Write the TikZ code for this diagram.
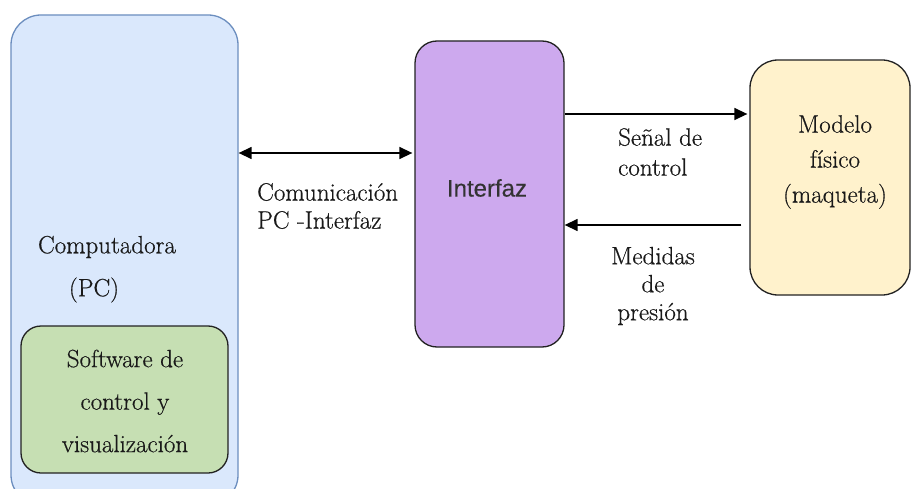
\documentclass[tikz,border=0pt]{standalone}
\usepackage{fontspec}
\newfontfamily\serfont{Latin Modern Roman}[FakeBold=0.5]
\newfontfamily\arialfont{Liberation Sans}[FakeBold=0.3]
\usetikzlibrary{arrows.meta}
\definecolor{pcfill}{HTML}{DAE8FC}
\definecolor{pcdraw}{HTML}{6C8EBF}
\definecolor{swfill}{HTML}{C6DFB3}
\definecolor{intfill}{HTML}{CDA9EE}
\definecolor{modfill}{HTML}{FFF2CC}
\definecolor{edge}{HTML}{222222}
\begin{document}
\begin{tikzpicture}[x=1pt,y=-1pt,
  box/.style={draw=edge, line width=1.3pt, inner sep=0pt},
  lbl/.style={font=\serfont\fontsize{25}{28}\selectfont, inner sep=0pt, text=black!90},
  conn/.style={line width=1.4pt, -{Triangle[length=13pt,width=12pt]}},
  conn2/.style={line width=1.4pt, {Triangle[length=13pt,width=12pt]}-{Triangle[length=13pt,width=12pt]}}]
\clip (0,0) rectangle (912,489);
\fill[white] (0,0) rectangle (912,489);
\node[box, draw=pcdraw, fill=pcfill, rounded corners=30pt, minimum width=227pt, minimum height=490pt] (pc) at (124.5,260) {};
\node[box, fill=swfill, rounded corners=20pt, minimum width=207pt, minimum height=147pt] (sw) at (124.5,399.5) {};
\node[box, fill=intfill, rounded corners=22pt, minimum width=149pt, minimum height=306pt] (int) at (489.5,194) {};
\node[box, fill=modfill, rounded corners=28pt, minimum width=160pt, minimum height=235pt] (mod) at (830,177.5) {};

\node[lbl] (pct1) at (107,247) {Computadora};
\node[lbl] (pct2) at (94,290) {(PC)};
\node[lbl, align=center, font=\serfont\fontsize{25}{42.5}\selectfont] (swt) at (125,401) {Software de\\control y\\visualización};
\node[lbl, font=\arialfont\fontsize{24}{28}\selectfont, text=black!80] (intt) at (487,188) {Interfaz};
\node[lbl, align=center, font=\serfont\fontsize{25}{35}\selectfont] (modt) at (835,162) {Modelo\\físico\\(maqueta)};

\coordinate (ya) at (0,153);
\coordinate (yb) at (0,114);
\coordinate (yc) at (0,225);
\draw[conn2] (pc.east |- ya) -- ([xshift=-2pt]int.west |- ya);
\draw[conn] (int.east |- yb) -- ([xshift=-2pt]mod.west |- yb);
\draw[conn] ([xshift=-8pt]mod.west |- yc) -- (int.east |- yc);

\node[lbl, align=left, anchor=west] (lc) at (257,206) {Comunicación\\PC -Interfaz};
\node[lbl, align=left, anchor=west, font=\serfont\fontsize{25}{30}\selectfont] (ls) at (618,152) {Señal de\\control};
\node[lbl, align=center] (lm) at (653,286) {Medidas\\de\\presión};
\end{tikzpicture}
\end{document}
